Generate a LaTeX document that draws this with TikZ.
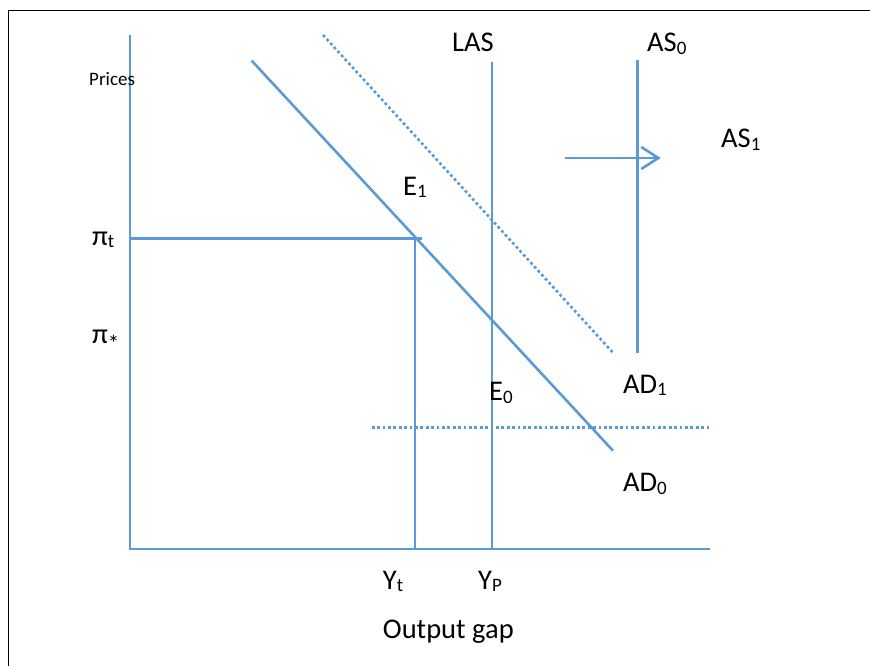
\documentclass[tikz,border=0pt]{standalone}
\usepackage{fontspec}
\setmainfont{Carlito}
\usetikzlibrary{arrows.meta}
\definecolor{lineblue}{HTML}{5B9BD5}
\newcommand\mysub[1]{\raisebox{-2.5pt}{\fontsize{19}{20}\selectfont #1}}
\begin{document}
\begin{tikzpicture}[x=1pt,y=-1pt,
  curve/.style={draw=lineblue,line width=2.6pt},
  dotline/.style={draw=lineblue,line width=2.6pt,dash pattern=on 2.8pt off 2.6pt},
  lbl/.style={anchor=base west,inner sep=0pt,font=\fontsize{28.5}{30}\selectfont},
  smalllbl/.style={anchor=base west,inner sep=0pt,font=\fontsize{19}{20}\selectfont}]
\useasboundingbox (0,0) rectangle (870,666);
% frame
\coordinate (f1) at (8.5,666);
\coordinate (f2) at (8.5,10.5);
\coordinate (f3) at (870,10.5);
\draw[black,line width=1.5pt] (f1) -- (f2) -- (f3);
% axes
\coordinate (ytop) at (130,35);
\coordinate (origin) at (130,549);
\coordinate (xend) at (710,549);
\draw[curve] (ytop) -- (origin) -- (xend);
% pi_t line and Yt
\coordinate (pit) at (130,238.3);
\coordinate (pitend) at (421.7,238.3);
\draw[curve] (pit) -- (pitend);
\coordinate (yttop) at (415,238.3);
\coordinate (ytbot) at (415,549);
\draw[curve] (yttop) -- (ytbot);
% LAS
\coordinate (lastop) at (492,62);
\coordinate (lasbot) at (492,549);
\draw[curve] (lastop) -- (lasbot);
% AS0
\coordinate (astop) at (637.7,60);
\coordinate (asbot) at (637.7,353);
\draw[curve] (astop) -- (asbot);
% arrow
\coordinate (arrs) at (565,158);
\coordinate (arre) at (660.7,158);
\draw[curve,-{Straight Barb[length=17pt,width=22pt,line width=2.6pt]}] (arrs) -- (arre);
% AD0
\coordinate (ad0a) at (251.7,60.7);
\coordinate (ad0b) at (613,450.7);
\draw[curve] (ad0a) -- (ad0b);
% AD1 dotted
\coordinate (ad1a) at (323,35);
\coordinate (ad1b) at (613,352.7);
\draw[dotline] (ad1a) -- (ad1b);
% horizontal dotted
\coordinate (hda) at (371.7,427.3);
\coordinate (hdb) at (710.7,427.3);
\draw[dotline] (hda) -- (hdb);
% labels
\node[smalllbl] (prices) at (89,86) {Prices};
\node[lbl] (las) at (452,52) {LAS};
\node[lbl] (as0) at (647,52) {AS\mysub{0}};
\node[lbl] (as1) at (721,148) {AS\mysub{1}};
\node[lbl] (pt) at (92,245) {π\mysub{t}};
\node[lbl] (ps) at (92,343) {π\raisebox{-8pt}{\fontsize{23}{23}\selectfont *}};
\node[lbl] (e1) at (403,195) {E\mysub{1}};
\node[lbl] (e0) at (489,400.7) {E\mysub{0}};
\node[lbl] (ad1) at (623,393) {AD\mysub{1}};
\node[lbl] (ad0) at (623,491.7) {AD\mysub{0}};
\node[lbl] (yt) at (382.7,589) {Y\mysub{t}};
\node[lbl] (yp) at (478,589) {Y\mysub{P}};
\node[lbl] (gap) at (382.7,638) {Output gap};
\end{tikzpicture}
\end{document}
